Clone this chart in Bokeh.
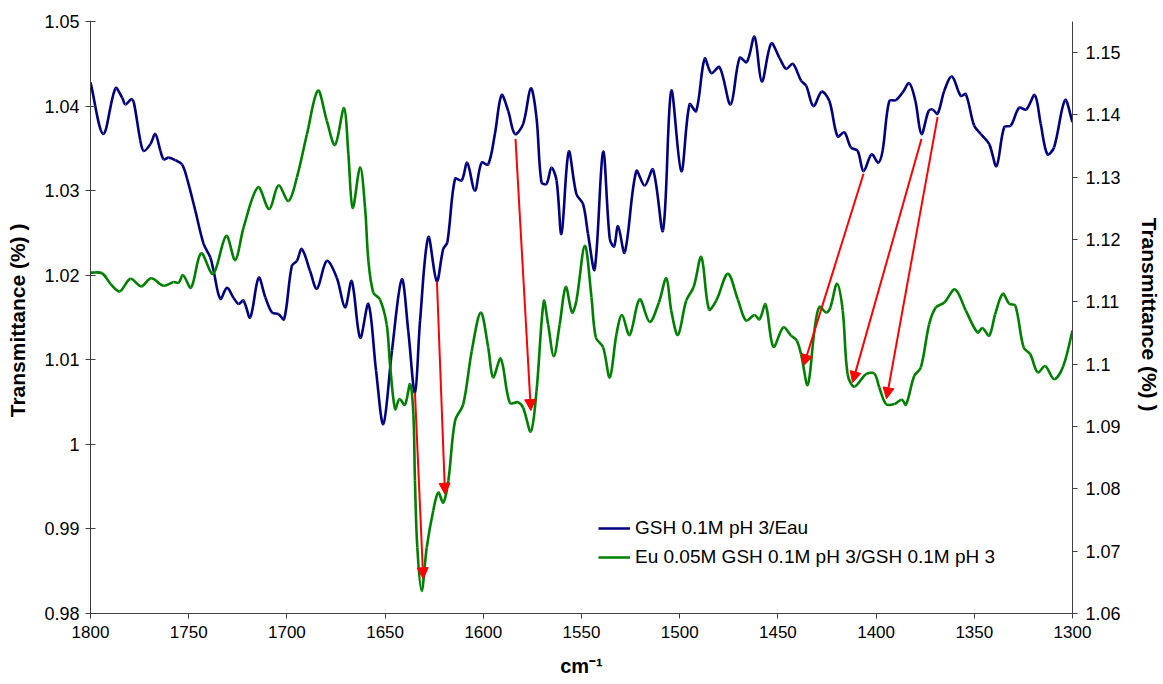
import math
from bokeh.plotting import figure
from bokeh.models import (Range1d, LinearAxis, FixedTicker, CustomJSTickFormatter, Arrow,
                          NormalHead, ColumnDataSource, Legend, LegendItem)
from bokeh.embed import file_html
from bokeh.resources import INLINE

# ---------------- data ----------------
blue_label = "GSH 0.1M pH 3/Eau"
green_label = "Eu 0.05M GSH 0.1M pH 3/GSH 0.1M pH 3"

blue_x = [1800.0, 1793.5, 1787.3, 1783.9, 1782.2, 1779.3, 1778.0, 1774.6, 1772.9, 1769.5,
          1767.0, 1764.4, 1762.7, 1760.2, 1756.8, 1753.4, 1750.8, 1746.6, 1742.4, 1739.0,
          1737.3, 1733.9, 1730.5, 1727.1, 1724.6, 1722.1, 1718.7, 1714.4, 1711.0, 1707.6,
          1704.3, 1701.4, 1697.5, 1694.9, 1692.4, 1688.2, 1684.7, 1679.7, 1674.6, 1670.4,
          1667.0, 1662.7, 1658.5, 1654.6, 1650.9, 1646.5, 1641.5, 1638.2, 1634.8, 1632.2,
          1628.0, 1623.7, 1620.4, 1618.3, 1614.4, 1611.0, 1608.2, 1604.3, 1600.9, 1597.5,
          1594.1, 1590.7, 1587.3, 1583.9, 1579.7, 1575.8, 1572.9, 1570.4, 1567.8, 1565.3,
          1562.7, 1560.2, 1556.5, 1552.6, 1549.2, 1546.7, 1543.3, 1539.0, 1535.6, 1533.4,
          1531.4, 1528.0, 1522.1, 1517.8, 1513.6, 1508.5, 1504.3, 1499.2, 1495.0, 1491.6,
          1487.3, 1483.9, 1479.7, 1474.1, 1469.5, 1465.8, 1461.9, 1458.2, 1453.4, 1449.2,
          1445.8, 1442.4, 1438.2, 1435.6, 1431.9, 1427.7, 1423.8, 1419.6, 1416.2, 1412.8,
          1409.4, 1406.4, 1402.3, 1398.9, 1396.7, 1393.3, 1389.9, 1386.5, 1383.1, 1380.0,
          1376.9, 1373.3, 1371.3, 1368.7, 1365.3, 1361.4, 1356.9, 1354.3, 1350.1, 1346.7,
          1342.4, 1338.7, 1334.8, 1331.4, 1327.2, 1323.5, 1319.2, 1316.2, 1312.8, 1309.4,
          1303.8, 1300.0]
blue_y = [1.0428, 1.0367, 1.0421, 1.0410, 1.0402, 1.0408, 1.0405, 1.0359, 1.0347, 1.0355,
          1.0367, 1.0347, 1.0337, 1.0339, 1.0336, 1.0331, 1.0314, 1.0276, 1.0237, 1.0221,
          1.0205, 1.0172, 1.0185, 1.0173, 1.0166, 1.0170, 1.0150, 1.0197, 1.0174, 1.0156,
          1.0154, 1.0148, 1.0211, 1.0217, 1.0231, 1.0205, 1.0184, 1.0217, 1.0197, 1.0162,
          1.0193, 1.0126, 1.0166, 1.0087, 1.0024, 1.0111, 1.0195, 1.0134, 1.0061, 1.0146,
          1.0245, 1.0193, 1.0231, 1.0239, 1.0314, 1.0312, 1.0333, 1.0300, 1.0333, 1.0331,
          1.0367, 1.0413, 1.0394, 1.0367, 1.0379, 1.0421, 1.0386, 1.0310, 1.0308, 1.0327,
          1.0312, 1.0249, 1.0346, 1.0296, 1.0284, 1.0249, 1.0207, 1.0346, 1.0243, 1.0234,
          1.0258, 1.0227, 1.0323, 1.0306, 1.0325, 1.0253, 1.0418, 1.0323, 1.0402, 1.0394,
          1.0456, 1.0439, 1.0446, 1.0402, 1.0457, 1.0452, 1.0482, 1.0429, 1.0474, 1.0457,
          1.0444, 1.0450, 1.0430, 1.0424, 1.0400, 1.0417, 1.0406, 1.0364, 1.0369, 1.0351,
          1.0347, 1.0323, 1.0343, 1.0333, 1.0347, 1.0406, 1.0407, 1.0416, 1.0427, 1.0406,
          1.0367, 1.0394, 1.0396, 1.0391, 1.0418, 1.0435, 1.0412, 1.0414, 1.0377, 1.0367,
          1.0355, 1.0329, 1.0375, 1.0377, 1.0398, 1.0396, 1.0413, 1.0379, 1.0343, 1.0351,
          1.0407, 1.0381]

green_x = [1800.0, 1794.1, 1789.8, 1785.1, 1779.7, 1774.2, 1769.1, 1762.7, 1757.7, 1755.1,
           1752.9, 1748.8, 1743.7, 1737.6, 1730.9, 1726.3, 1722.1, 1714.7, 1709.0, 1704.3,
           1699.2, 1694.9, 1689.8, 1684.2, 1679.7, 1675.5, 1670.9, 1668.7, 1666.5, 1662.7,
           1660.2, 1658.5, 1656.0, 1652.6, 1649.2, 1647.5, 1644.9, 1642.7, 1639.9, 1637.3,
           1635.6, 1634.8, 1633.6, 1631.4, 1628.8, 1625.5, 1622.9, 1620.4, 1617.8, 1614.4,
           1610.2, 1605.9, 1601.3, 1597.5, 1595.0, 1591.1, 1586.5, 1582.3, 1579.7, 1575.8,
           1572.9, 1569.2, 1567.0, 1564.1, 1561.1, 1558.0, 1554.8, 1552.6, 1548.3, 1544.9,
           1542.7, 1539.0, 1535.6, 1532.2, 1529.4, 1525.5, 1520.4, 1515.3, 1510.6, 1506.8,
           1504.3, 1500.9, 1496.7, 1492.9, 1489.0, 1485.1, 1481.4, 1475.5, 1470.4, 1466.2,
           1461.9, 1459.4, 1456.3, 1452.3, 1447.2, 1443.3, 1440.4, 1438.2, 1434.8, 1431.4,
           1428.9, 1425.4, 1423.3, 1419.9, 1417.0, 1414.5, 1411.1, 1405.1, 1400.9, 1398.4,
           1394.9, 1390.7, 1386.9, 1384.8, 1380.6, 1377.2, 1373.0, 1369.6, 1365.3, 1359.8,
           1354.3, 1348.4, 1345.9, 1342.4, 1339.4, 1335.5, 1332.2, 1329.1, 1324.9, 1321.5,
           1317.7, 1313.9, 1309.3, 1304.7, 1300.0]
green_y = [1.1147, 1.1146, 1.1129, 1.1117, 1.1137, 1.1125, 1.1138, 1.1126, 1.1132, 1.1131,
           1.1143, 1.1123, 1.1178, 1.1145, 1.1206, 1.1167, 1.1219, 1.1284, 1.1249, 1.1287,
           1.1262, 1.1300, 1.1369, 1.1439, 1.1391, 1.1352, 1.1411, 1.1337, 1.1251, 1.1316,
           1.1251, 1.1166, 1.1115, 1.1104, 1.1064, 1.1000, 1.0928, 1.0944, 1.0935, 1.0968,
           1.0920, 1.0813, 1.0706, 1.0636, 1.0706, 1.0765, 1.0794, 1.0778, 1.0813, 1.0909,
           1.0936, 1.1021, 1.1083, 1.1027, 1.0979, 1.1009, 1.0938, 1.0939, 1.0930, 1.0892,
           1.0957, 1.1101, 1.1064, 1.1013, 1.1064, 1.1124, 1.1083, 1.1102, 1.1190, 1.1107,
           1.1043, 1.1027, 1.0979, 1.1048, 1.1079, 1.1047, 1.1104, 1.1068, 1.1099, 1.1138,
           1.1086, 1.1047, 1.1102, 1.1124, 1.1172, 1.1088, 1.1102, 1.1145, 1.1104, 1.1070,
           1.1079, 1.1072, 1.1096, 1.1028, 1.1059, 1.1046, 1.1038, 1.1016, 1.0967, 1.1054,
           1.1092, 1.1083, 1.1091, 1.1129, 1.1086, 1.0984, 1.0964, 1.0984, 1.0985, 1.0963,
           1.0936, 1.0936, 1.0943, 1.0935, 1.0981, 1.0995, 1.1064, 1.1091, 1.1099, 1.1120,
           1.1086, 1.1051, 1.1058, 1.1046, 1.1080, 1.1113, 1.1097, 1.1094, 1.1027, 1.1016,
           1.0987, 1.0997, 1.0976, 1.0997, 1.1054]

# red arrows (left-axis units)
arrow_x0 = [1634.8, 1623.6, 1583.6, 1406.4, 1376.9, 1368.7]
arrow_y0 = [1.0061, 1.0192, 1.0361, 1.0320, 1.0361, 1.0387]
arrow_x1 = [1630.6, 1619.5, 1575.8, 1436.9, 1412.0, 1394.7]
arrow_y1 = [0.9841, 0.9941, 1.0040, 1.0093, 1.0073, 1.0054]

x_ticks = [1800, 1750, 1700, 1650, 1600, 1550, 1500, 1450, 1400, 1350, 1300]
left_ticks = [0.98, 0.99, 1.00, 1.01, 1.02, 1.03, 1.04, 1.05]
right_ticks = [1.06, 1.07, 1.08, 1.09, 1.10, 1.11, 1.12, 1.13, 1.14, 1.15]

x_title = "cm\u207b\u00b9"
y_title = "Transmittance (%)  )"

# ---------------- figure ----------------
FONT = "Liberation Sans"
AXIS_COL = "#404040"
W, H = 1163, 684
BL, BR, BT, BB = 90, 90, 21, 71

p = figure(width=W, height=H, x_range=Range1d(1800, 1300), y_range=Range1d(0.98, 1.05),
           output_backend="svg", toolbar_location=None,
           min_border_left=BL, min_border_right=BR, min_border_top=BT, min_border_bottom=BB)
p.outline_line_color = None
p.grid.visible = False
p.background_fill_color = "white"
p.border_fill_color = "white"
p.extra_y_ranges = {"right": Range1d(1.06, 1.155)}

fmt = CustomJSTickFormatter(code="return tick.toFixed(2).replace(/\\.?0+$/, '');")

xa = p.xaxis[0]
xa.ticker = FixedTicker(ticks=x_ticks)
xa.axis_label = x_title
xa.axis_label_text_font = FONT
xa.axis_label_text_font_style = "bold"
xa.axis_label_text_font_size = "20px"
xa.axis_label_text_color = "black"
xa.axis_label_standoff = 14
xa.major_label_text_font = FONT
xa.major_label_text_font_size = "17px"
xa.major_label_text_color = "black"
xa.major_label_standoff = 7
xa.major_tick_in = 0
xa.major_tick_out = 5
xa.minor_tick_line_color = None
xa.axis_line_color = AXIS_COL
xa.major_tick_line_color = AXIS_COL

ya = p.yaxis[0]
ya.ticker = FixedTicker(ticks=left_ticks)
ya.formatter = fmt
ya.axis_label = y_title
ya.axis_label_text_font = FONT
ya.axis_label_text_font_style = "bold"
ya.axis_label_text_font_size = "21px"
ya.axis_label_text_color = "black"
ya.axis_label_standoff = 12
ya.major_label_text_font = FONT
ya.major_label_text_font_size = "18px"
ya.major_label_text_color = "black"
ya.major_label_standoff = 6
ya.major_tick_in = 5
ya.major_tick_out = 5
ya.minor_tick_line_color = None
ya.axis_line_color = AXIS_COL
ya.major_tick_line_color = AXIS_COL

ra = LinearAxis(y_range_name="right", ticker=FixedTicker(ticks=right_ticks), formatter=fmt)
ra.axis_label = y_title
ra.axis_label_text_font = FONT
ra.axis_label_text_font_style = "bold"
ra.axis_label_text_font_size = "21px"
ra.axis_label_text_color = "black"
ra.axis_label_standoff = 14
ra.major_label_text_font = FONT
ra.major_label_text_font_size = "18px"
ra.major_label_text_color = "black"
ra.major_label_standoff = 8
ra.major_tick_in = 0
ra.major_tick_out = 5
ra.minor_tick_line_color = None
ra.axis_line_color = AXIS_COL
ra.major_tick_line_color = AXIS_COL
p.add_layout(ra, "right")

# pixel-equivalent scales (only used to weight the smoothing of the line)
FW, FH = W - BL - BR, H - BT - BB
KX = FW / 500.0
KY_LEFT = FH / (1.05 - 0.98)
KY_RIGHT = FH / (1.155 - 1.06)


def smooth_segments(xs, ys, ky):
    """Cubic Bezier segments through every read point (Excel-style smoothed line)."""
    n = len(xs)
    L = [math.hypot((xs[i + 1] - xs[i]) * KX, (ys[i + 1] - ys[i]) * ky) for i in range(n - 1)]
    out = dict(x0=[], y0=[], x1=[], y1=[], cx0=[], cy0=[], cx1=[], cy1=[])
    for i in range(n - 1):
        if i == 0:
            c1x = xs[0] + (xs[1] - xs[0]) / 3.0
            c1y = ys[0] + (ys[1] - ys[0]) / 3.0
        else:
            w = L[i] / (L[i - 1] + L[i]) / 3.0
            c1x = xs[i] + (xs[i + 1] - xs[i - 1]) * w
            c1y = ys[i] + (ys[i + 1] - ys[i - 1]) * w
        if i + 1 == n - 1:
            c2x = xs[n - 1] - (xs[n - 1] - xs[n - 2]) / 3.0
            c2y = ys[n - 1] - (ys[n - 1] - ys[n - 2]) / 3.0
        else:
            w = L[i] / (L[i] + L[i + 1]) / 3.0
            c2x = xs[i + 1] - (xs[i + 2] - xs[i]) * w
            c2y = ys[i + 1] - (ys[i + 2] - ys[i]) * w
        out["x0"].append(xs[i]); out["y0"].append(ys[i])
        out["x1"].append(xs[i + 1]); out["y1"].append(ys[i + 1])
        out["cx0"].append(c1x); out["cy0"].append(c1y)
        out["cx1"].append(c2x); out["cy1"].append(c2y)
    return ColumnDataSource(out)


bsrc = smooth_segments(blue_x, blue_y, KY_LEFT)
gsrc = smooth_segments(green_x, green_y, KY_RIGHT)

r_blue = p.bezier(x0="x0", y0="y0", x1="x1", y1="y1", cx0="cx0", cy0="cy0", cx1="cx1", cy1="cy1",
                  source=bsrc, line_color="#000080", line_width=2.6)
r_green = p.bezier(x0="x0", y0="y0", x1="x1", y1="y1", cx0="cx0", cy0="cy0", cx1="cx1", cy1="cy1",
                   source=gsrc, line_color="#008000", line_width=2.6, y_range_name="right")

asrc = ColumnDataSource(dict(x0=arrow_x0, y0=arrow_y0, x1=arrow_x1, y1=arrow_y1))
p.add_layout(Arrow(x_start="x0", y_start="y0", x_end="x1", y_end="y1", source=asrc,
                   line_color="#FF0000", line_width=2,
                   end=NormalHead(size=11, fill_color="#FF0000", line_color="#FF0000", line_width=1)))

legend = Legend(items=[LegendItem(label=blue_label, renderers=[r_blue], index=0),
                       LegendItem(label=green_label, renderers=[r_green], index=0)],
                location=(508, 45))
legend.border_line_color = None
legend.background_fill_alpha = 0
legend.padding = 0
legend.margin = 0
legend.spacing = 7
legend.glyph_width = 32
legend.glyph_height = 22
legend.label_height = 22
legend.label_standoff = 5
legend.label_text_font = FONT
legend.label_text_font_size = "19px"
legend.label_text_color = "black"
p.add_layout(legend)

open("out.html", "w").write(file_html(p, INLINE))
